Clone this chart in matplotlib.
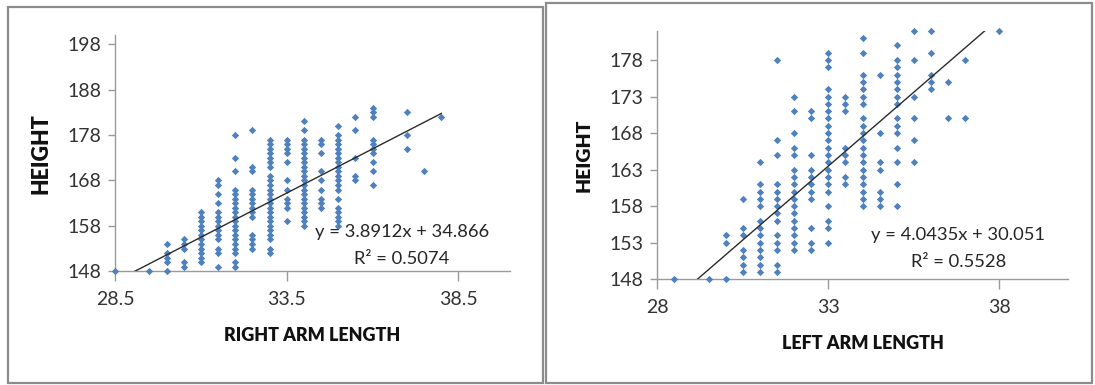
import matplotlib
matplotlib.use("Agg")
import matplotlib.pyplot as plt
from matplotlib.patches import Rectangle
import numpy as np

plt.rcParams['font.family'] = ['Lato', 'DejaVu Sans']

# ---------------- data: right arm ----------------
right_arm = [28.5, 29.5, 30.0, 30.5, 31.0, 31.5, 32.0, 32.5, 33.0, 33.5,
             34.0, 34.5, 35.0, 35.5, 36.0, 37.0, 37.5, 38.0]
right_heights = [
    [148],
    [148],
    [148, 150, 151, 152, 154],
    [149, 150, 153, 154, 155],
    [150, 151, 152, 153, 154, 155, 156, 157, 158, 159, 160, 161],
    [149, 152, 153, 155, 156, 157, 158, 159, 160, 161, 163, 165, 167, 168],
    [149, 150, 152, 153, 154, 155, 156, 157, 158, 159, 160, 161, 162, 163,
     164, 165, 166, 170, 173, 178],
    [153, 154, 155, 156, 160, 161, 162, 163, 164, 165, 166, 170, 171, 179],
    [152, 153, 155, 156, 157, 158, 159, 160, 161, 162, 163, 164, 165, 166,
     167, 168, 169, 171, 172, 173, 174, 175, 176, 177],
    [159, 162, 163, 164, 166, 168, 172, 174, 175, 176, 177],
    [158, 159, 160, 161, 162, 163, 164, 165, 166, 167, 168, 169, 170, 171,
     172, 173, 174, 175, 176, 177, 179, 181],
    [162, 163, 164, 166, 168, 170, 174, 176, 177],
    [158, 159, 160, 161, 162, 164, 166, 167, 168, 169, 170, 171, 172, 173,
     174, 175, 176, 177, 178, 180],
    [168, 169, 173, 179, 182],
    [167, 170, 172, 174, 175, 176, 177, 182, 183, 184],
    [175, 178, 183],
    [170],
    [182],
]
right_slope, right_intercept, right_r2 = 3.8912, 34.866, 0.5074

# ---------------- data: left arm ----------------
left_arm = [28.5, 29.5, 30.0, 30.5, 31.0, 31.5, 32.0, 32.5, 33.0, 33.5,
            34.0, 34.5, 35.0, 35.5, 36.0, 36.5, 37.0, 38.0]
left_heights = [
    [148],
    [148],
    [148, 153, 154],
    [149, 150, 151, 152, 154, 155, 159],
    [149, 150, 151, 152, 153, 154, 155, 156, 158, 159, 160, 161, 164],
    [149, 150, 152, 153, 154, 156, 157, 158, 159, 160, 161, 165, 167, 178],
    [152, 153, 154, 155, 156, 157, 158, 159, 160, 161, 162, 163, 165, 166,
     168, 171, 173],
    [152, 153, 155, 159, 160, 161, 162, 163, 165, 170, 171],
    [153, 155, 156, 158, 160, 161, 162, 163, 164, 165, 166, 167, 168, 169,
     170, 171, 172, 173, 174, 177, 178, 179],
    [161, 162, 164, 165, 166, 171, 172, 173],
    [158, 159, 160, 161, 162, 163, 164, 165, 166, 167, 168, 169, 170, 172,
     173, 174, 175, 176, 179, 181],
    [158, 159, 160, 163, 164, 168, 176],
    [158, 161, 164, 166, 168, 169, 170, 172, 173, 174, 175, 176, 177, 178, 180],
    [164, 167, 170, 173, 178, 182],
    [174, 175, 176, 179, 182],
    [170, 175],
    [170, 178],
    [182],
]
left_slope, left_intercept, left_r2 = 4.0435, 30.051, 0.5528


def flatten(xs, yss):
    px, py = [], []
    for x, ys in zip(xs, yss):
        for y in ys:
            px.append(x)
            py.append(y)
    return np.array(px), np.array(py)


W, H = 1095, 385
fig = plt.figure(figsize=(W / 100, H / 100), dpi=100)

# panel frames
fig.patches.append(Rectangle((8 / W, 2 / H), 535 / W, 376 / H, transform=fig.transFigure,
                             fill=False, edgecolor='#8c8c8c', lw=1.6))
fig.patches.append(Rectangle((546 / W, 2 / H), 546 / W, 380 / H, transform=fig.transFigure,
                             fill=False, edgecolor='#8c8c8c', lw=1.6))

BLUE = '#4F81BD'
TXT = '#333333'
SPINE = '#9a9a9a'
LBL = '#111111'


def style(ax):
    for s in ['top', 'right']:
        ax.spines[s].set_visible(False)
    for s in ['left', 'bottom']:
        ax.spines[s].set_color(SPINE)
        ax.spines[s].set_linewidth(1.0)
    ax.tick_params(axis='both', colors=SPINE, labelcolor=TXT, labelsize=14,
                   width=1, direction='out')
    ax.tick_params(axis='y', length=5, pad=5)
    ax.tick_params(axis='x', length=7, pad=7)


# ---- left chart (right arm)
ax1 = fig.add_axes([115 / W, 1 - 271.3 / H, 395 / W, (271.3 - 35) / H])
x1, y1 = flatten(right_arm, right_heights)
ax1.scatter(x1, y1, marker='D', s=14, color=BLUE, zorder=3, linewidths=0, clip_on=False)
tx = np.array([min(right_arm), max(right_arm)])
ax1.plot(tx, right_slope * tx + right_intercept, color='#2b2b2b', lw=1.0, zorder=4)
ax1.set_xlim(28.5, 40)
ax1.set_ylim(148, 200)
ax1.set_xticks([28.5, 33.5, 38.5])
ax1.set_yticks(np.arange(148, 199, 10))
ax1.set_xticklabels(['28.5', '33.5', '38.5'])
style(ax1)
ax1.set_xlabel('RIGHT ARM LENGTH', fontsize=13, fontweight='heavy', color=LBL, labelpad=14)
ax1.set_ylabel('HEIGHT', fontsize=15.5, fontweight='heavy', color=LBL, labelpad=11)
ax1.text(36.85, 156.6, f'y = {right_slope}x + {right_intercept}', ha='center', va='center',
         fontsize=13.2, color='#262626', zorder=5)
ax1.text(36.85, 150.6, f'R² = {right_r2}', ha='center', va='center',
         fontsize=13.2, color='#262626', zorder=5)

# ---- right chart (left arm)
ax2 = fig.add_axes([657.3 / W, 1 - 279.3 / H, 410.5 / W, (279.3 - 30.7) / H])
x2, y2 = flatten(left_arm, left_heights)
ax2.scatter(x2, y2, marker='D', s=14, color=BLUE, zorder=3, linewidths=0, clip_on=False)
tx2 = np.array([min(left_arm), max(left_arm)])
ax2.plot(tx2, left_slope * tx2 + left_intercept, color='#2b2b2b', lw=1.0, zorder=4)
ax2.set_xlim(28, 40)
ax2.set_ylim(148, 182)
ax2.set_xticks([28, 33, 38])
ax2.set_yticks(np.arange(148, 179, 5))
style(ax2)
ax2.set_xlabel('LEFT ARM LENGTH', fontsize=13, fontweight='heavy', color=LBL, labelpad=14)
ax2.set_ylabel('HEIGHT', fontsize=14, fontweight='heavy', color=LBL, labelpad=12)
ax2.text(36.8, 154.0, f'y = {left_slope}x + {left_intercept}', ha='center', va='center',
         fontsize=13.2, color='#262626', zorder=5)
ax2.text(36.8, 150.4, f'R² = {left_r2}', ha='center', va='center',
         fontsize=13.2, color='#262626', zorder=5)

fig.savefig('out.png', dpi=100)
